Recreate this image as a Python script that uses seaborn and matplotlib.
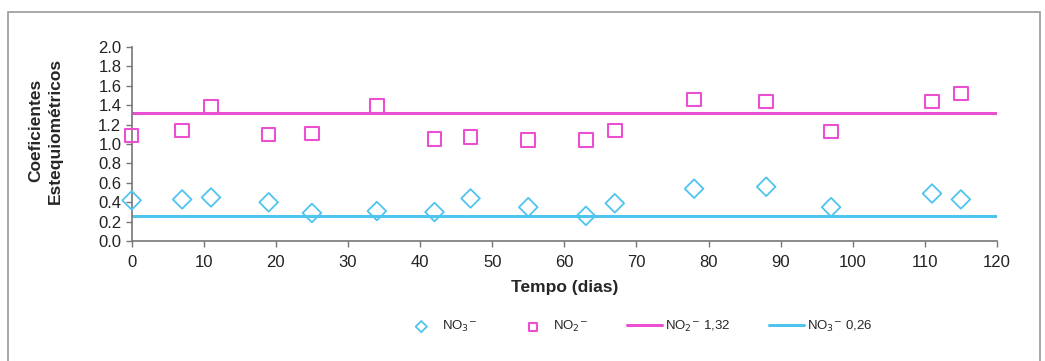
import numpy as np
import pandas as pd
import matplotlib.pyplot as plt
import seaborn as sns
from matplotlib.patches import Rectangle

# Dados
dias = [0, 7, 11, 19, 25, 34, 42, 47, 55, 63, 67, 78, 88, 97, 111, 115]
no3 = [0.42, 0.43, 0.45, 0.40, 0.29, 0.31, 0.30, 0.44, 0.35, 0.26, 0.39, 0.54, 0.56, 0.35, 0.49, 0.43]
no2 = [1.09, 1.14, 1.38, 1.10, 1.11, 1.39, 1.05, 1.07, 1.04, 1.04, 1.14, 1.46, 1.44, 1.13, 1.44, 1.52]
ref_x = [0, 120]
no2_ref = 1.32
no3_ref = 0.26

MAGENTA = "#EC50D2"
CIANO = "#4FC4EE"

sns.set_style("white")
plt.rcParams["font.family"] = ["Liberation Sans", "DejaVu Sans"]

fig = plt.figure(figsize=(10.45, 3.61), dpi=100)
fig.patches.append(Rectangle((8 / 1045, -0.05), 1032 / 1045, 1.05 - 12 / 361,
                             transform=fig.transFigure, fill=False,
                             edgecolor="#9a9a9a", linewidth=1.2))
ax = fig.add_axes([0.126, 0.332, 0.828, 0.538])

sns.scatterplot(x=dias, y=no3, ax=ax, marker="D", s=90, facecolors="none",
                edgecolor=CIANO, linewidth=1.3, label="NO$_3$$^{-}$", clip_on=False, zorder=3)
sns.scatterplot(x=dias, y=no2, ax=ax, marker="s", s=95, facecolors="none",
                edgecolor=MAGENTA, linewidth=1.5, label="NO$_2$$^{-}$", clip_on=False, zorder=3)
sns.lineplot(x=ref_x, y=[no2_ref] * 2, ax=ax, color=MAGENTA, linewidth=2.2,
             label="NO$_2$$^{-}$ 1,32")
sns.lineplot(x=ref_x, y=[no3_ref] * 2, ax=ax, color=CIANO, linewidth=2.2,
             label="NO$_3$$^{-}$ 0,26")

ax.set_xlim(0, 120)
ax.set_ylim(0, 2.0)
ax.set_xticks(np.arange(0, 121, 10))
ax.set_yticks(np.arange(0, 2.01, 0.2))
ax.set_yticklabels([f"{v:.1f}" for v in np.arange(0, 2.01, 0.2)])
ax.tick_params(axis="both", direction="out", length=4, width=1, color="#777777",
               labelsize=12, colors="#222222", bottom=True, left=True)
ax.tick_params(axis="x", pad=6)
for s in ["top", "right"]:
    ax.spines[s].set_visible(False)
for s in ["left", "bottom"]:
    ax.spines[s].set_color("#777777")
    ax.spines[s].set_linewidth(1.2)

ax.set_xlabel("Tempo (dias)", fontsize=12.5, fontweight="bold", labelpad=7)
ax.set_ylabel("Coeficientes\nEstequiométricos", fontsize=12.5, fontweight="bold",
              linespacing=1.45)
ax.yaxis.set_label_coords(-0.079, 0.57)

handles, labels = ax.get_legend_handles_labels()
ax.legend(handles, labels, loc="center", bbox_to_anchor=(0.585, -0.44), ncol=4,
          frameon=False, fontsize=9.5, columnspacing=2.9, handlelength=2.7,
          handletextpad=0.2, markerscale=0.6)

fig.savefig("out.png", dpi=100)
